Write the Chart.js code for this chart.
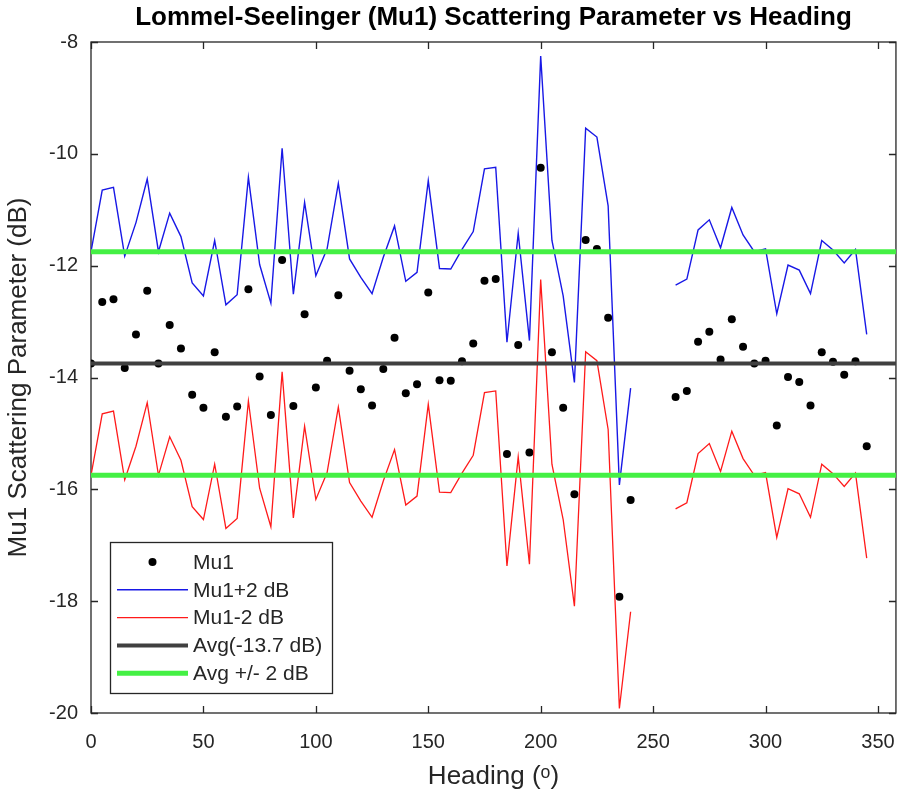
<!DOCTYPE html>
<html>
<head>
<meta charset="utf-8">
<script src="https://cdn.jsdelivr.net/npm/chart.js@4.4.1/dist/chart.umd.min.js"></script>
<style>
html,body{margin:0;padding:0;background:#ffffff;}
#wrap{width:912px;height:798px;position:relative;}
</style>
</head>
<body>
<div id="wrap"><canvas id="c"></canvas></div>
<script>
// ---- data ----
const headings = [0,5,10,15,20,25,30,35,40,45,50,55,60,65,70,75,80,85,90,95,100,105,110,115,120,125,130,135,140,145,150,155,160,165,170,175,180,185,190,195,200,205,210,215,220,225,230,235,240,245,250,255,260,265,270,275,280,285,290,295,300,305,310,315,320,325,330,335,340,345];
const mu1 = [-13.75,-12.65,-12.60,-13.83,-13.23,-12.45,-13.75,-13.06,-13.48,-14.31,-14.54,-13.55,-14.70,-14.52,-12.42,-13.98,-14.67,-11.90,-14.51,-12.87,-14.18,-13.70,-12.53,-13.88,-14.21,-14.50,-13.85,-13.29,-14.28,-14.12,-12.48,-14.05,-14.06,-13.71,-13.39,-12.27,-12.24,-15.37,-13.42,-15.34,-10.25,-13.55,-14.54,-16.09,-11.54,-11.70,-12.93,-17.92,-16.19,null,null,null,-14.35,-14.24,-13.36,-13.18,-13.68,-12.96,-13.45,-13.75,-13.70,-14.86,-13.99,-14.08,-14.50,-13.55,-13.72,-13.95,-13.71,-15.23];
const mu1Plus2 = [-11.75,-10.65,-10.60,-11.83,-11.23,-10.45,-11.75,-11.06,-11.48,-12.31,-12.54,-11.55,-12.70,-12.52,-10.42,-11.98,-12.67,-9.90,-12.51,-10.87,-12.18,-11.70,-10.53,-11.88,-12.21,-12.50,-11.85,-11.29,-12.28,-12.12,-10.48,-12.05,-12.06,-11.71,-11.39,-10.27,-10.24,-13.37,-11.42,-13.34,-8.25,-11.55,-12.54,-14.09,-9.54,-9.70,-10.93,-15.92,-14.19,null,null,null,-12.35,-12.24,-11.36,-11.18,-11.68,-10.96,-11.45,-11.75,-11.70,-12.86,-11.99,-12.08,-12.50,-11.55,-11.72,-11.95,-11.71,-13.23];
const mu1Minus2 = [-15.75,-14.65,-14.60,-15.83,-15.23,-14.45,-15.75,-15.06,-15.48,-16.31,-16.54,-15.55,-16.70,-16.52,-14.42,-15.98,-16.67,-13.90,-16.51,-14.87,-16.18,-15.70,-14.53,-15.88,-16.21,-16.50,-15.85,-15.29,-16.28,-16.12,-14.48,-16.05,-16.06,-15.71,-15.39,-14.27,-14.24,-17.37,-15.42,-17.34,-12.25,-15.55,-16.54,-18.09,-13.54,-13.70,-14.93,-19.92,-18.19,null,null,null,-16.35,-16.24,-15.36,-15.18,-15.68,-14.96,-15.45,-15.75,-15.70,-16.86,-15.99,-16.08,-16.50,-15.55,-15.72,-15.95,-15.71,-17.23];
const avgX = [0, 358];
const avgLine = [-13.75, -13.75];
const avgPlus2 = [-11.75, -11.75];
const avgMinus2 = [-15.75, -15.75];
const xTicks = [0,50,100,150,200,250,300,350];
const yTicks = [-20,-18,-16,-14,-12,-10,-8];
const xLimits = [0, 358];
const yLimits = [-20, -8];
const legendLabels = ['Mu1','Mu1+2 dB','Mu1-2 dB','Avg(-13.7 dB)','Avg +/- 2 dB'];

const pts = (xs, ys) => xs.map((x, i) => ({x: x, y: ys[i]}));

const FONT = "'Liberation Sans', Arial, Helvetica, sans-serif";
const AXC = '#262626';

const axesBox = {
  id: 'axesBox',
  beforeDatasetsDraw(chart) {
    const {ctx, chartArea: {left, right, top, bottom}, scales: {x, y}} = chart;
    ctx.save();
    ctx.strokeStyle = AXC;
    ctx.lineWidth = 1.3;
    ctx.strokeRect(left, top, right - left, bottom - top);
    const tl = 7;
    ctx.beginPath();
    x.ticks.forEach(t => {
      const px = Math.round(x.getPixelForValue(t.value)) + 0.5;
      ctx.moveTo(px, bottom); ctx.lineTo(px, bottom - tl);
      ctx.moveTo(px, top); ctx.lineTo(px, top + tl);
    });
    y.ticks.forEach(t => {
      const py = Math.round(y.getPixelForValue(t.value)) + 0.5;
      ctx.moveTo(left, py); ctx.lineTo(left + tl, py);
      ctx.moveTo(right, py); ctx.lineTo(right - tl, py);
    });
    ctx.stroke();
    ctx.restore();
  }
};

const boxLegend = {
  id: 'boxLegend',
  afterDraw(chart) {
    const ctx = chart.ctx;
    const ds = chart.data.datasets;
    const bx = 110, by = 542, bw = 222, bh = 151;
    ctx.save();
    ctx.fillStyle = '#ffffff';
    ctx.fillRect(bx, by, bw, bh);
    ctx.strokeStyle = AXC;
    ctx.lineWidth = 1.3;
    ctx.strokeRect(bx + 0.5, by + 0.5, bw, bh);
    const rowY0 = 562, rowH = 27.8;
    ctx.font = '21px ' + FONT;
    ctx.textBaseline = 'middle';
    ctx.textAlign = 'left';
    legendLabels.forEach((lab, i) => {
      const d = ds[i];
      const yy = rowY0 + i * rowH;
      if (i === 0) {
        ctx.fillStyle = d.backgroundColor;
        ctx.beginPath();
        ctx.arc(152.5, yy, d.pointRadius, 0, Math.PI * 2);
        ctx.fill();
      } else {
        ctx.strokeStyle = d.borderColor;
        ctx.lineWidth = d.borderWidth;
        ctx.beginPath();
        ctx.moveTo(117, yy); ctx.lineTo(188, yy);
        ctx.stroke();
      }
      ctx.fillStyle = AXC;
      ctx.fillText(lab, 193, yy + 1);
    });
    ctx.restore();
  }
};

const lineDs = (label, xs, ys, color, width, order) => ({
  label: label, data: pts(xs, ys), showLine: true, borderColor: color, backgroundColor: color,
  borderWidth: width, pointRadius: 0, pointHoverRadius: 0, spanGaps: false, order: order
});

new Chart(document.getElementById('c'), {
  type: 'scatter',
  data: {
    datasets: [
      {label: legendLabels[0], data: pts(headings, mu1), showLine: false, pointRadius: 4, pointBorderWidth: 0,
       backgroundColor: '#000000', borderColor: '#000000', order: 6},
      lineDs(legendLabels[1], headings, mu1Plus2, '#1818e6', 1.4, 5),
      lineDs(legendLabels[2], headings, mu1Minus2, '#ff1a1a', 1.3, 4),
      lineDs(legendLabels[3], avgX, avgLine, '#404040', 4, 3),
      lineDs(legendLabels[4], avgX, avgPlus2, '#44f044', 5, 2),
      lineDs(legendLabels[4], avgX, avgMinus2, '#44f044', 5, 1)
    ]
  },
  options: {
    responsive: true,
    maintainAspectRatio: false,
    animation: false,
    events: [],
    layout: {padding: {left: 0, right: 2, top: 0, bottom: 0}},
    plugins: {
      legend: {display: false},
      tooltip: {enabled: false},
      title: {
        display: true,
        fullSize: false,
        text: 'Lommel-Seelinger (Mu1) Scattering Parameter vs Heading',
        color: '#000000',
        font: {family: FONT, size: 26, weight: 'bold', lineHeight: 1},
        padding: {top: 5, bottom: 11}
      }
    },
    scales: {
      x: {
        type: 'linear', min: xLimits[0], max: xLimits[1],
        afterBuildTicks: s => { s.ticks = xTicks.map(v => ({value: v})); },
        afterFit: s => { s.height = 85; },
        grid: {display: false, drawTicks: false},
        border: {display: false},
        ticks: {color: AXC, font: {family: FONT, size: 20}, padding: 17, maxRotation: 0, includeBounds: false},
        title: {display: true, text: 'Heading (ᵒ)', color: AXC, font: {family: FONT, size: 26, lineHeight: 1.2}, padding: {top: 0, bottom: 6}}
      },
      y: {
        type: 'linear', min: yLimits[0], max: yLimits[1],
        afterBuildTicks: s => { s.ticks = yTicks.map(v => ({value: v})); },
        afterFit: s => { s.width = 91; },
        grid: {display: false, drawTicks: false},
        border: {display: false},
        ticks: {color: AXC, font: {family: FONT, size: 20}, padding: 13},
        title: {display: true, text: 'Mu1 Scattering Parameter (dB)', color: AXC, font: {family: FONT, size: 26, lineHeight: 1.2}, padding: {top: 3, bottom: 0}}
      }
    }
  },
  plugins: [axesBox, boxLegend]
});
</script>
</body>
</html>
